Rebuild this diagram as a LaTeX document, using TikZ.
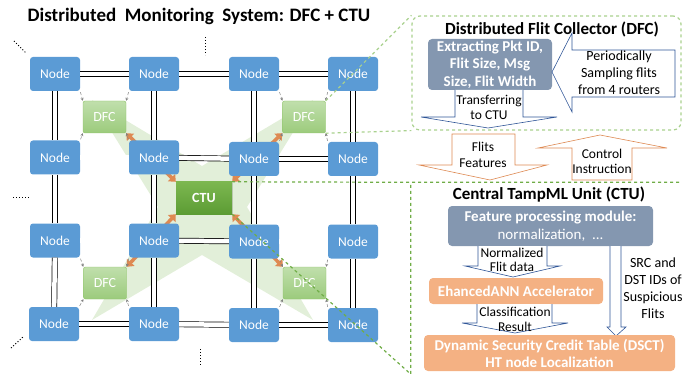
\documentclass[tikz,border=0pt]{standalone}
\usepackage{fontspec}
\setmainfont{Carlito}
\usetikzlibrary{arrows.meta,shadows,backgrounds}
\definecolor{nodeblue}{RGB}{91,155,213}
\definecolor{slate}{RGB}{132,151,176}
\definecolor{salmon}{RGB}{244,177,131}
\definecolor{paleleaf}{RGB}{226,239,217}
\definecolor{leaf}{RGB}{169,209,142}
\definecolor{moss}{RGB}{112,173,71}
\definecolor{rust}{RGB}{222,137,82}
\definecolor{navy}{RGB}{47,85,151}
\tikzstyle{router} = [rectangle, rounded corners=3pt, fill=nodeblue, text=white, minimum width=50pt, minimum height=34pt, inner sep=0pt, font=\fontsize{13.5}{15}\selectfont]
\tikzstyle{collector} = [rectangle, rounded corners=2pt, draw={rgb,255:red,140;green,195;blue,100}, top color={rgb,255:red,192;green,223;blue,172}, bottom color={rgb,255:red,156;green,203;blue,124}, text=white, minimum width=43pt, minimum height=32pt, inner sep=0pt, font=\fontsize{14}{15}\selectfont]
\tikzstyle{central} = [rectangle, top color={rgb,255:red,124;green,183;blue,80}, bottom color={rgb,255:red,92;green,156;blue,52}, text=white, minimum width=56pt, minimum height=32pt, inner sep=0pt, font=\bfseries\fontsize{14}{15}\selectfont, drop shadow={shadow xshift=1pt, shadow yshift=-1pt, opacity=0.3}]
\tikzstyle{block} = [rectangle, rounded corners=4pt, text=white, align=center, inner sep=0pt, font=\fontsize{15}{18}\selectfont]
\tikzstyle{note} = [align=center, inner sep=0pt, font=\fontsize{13.5}{15}\selectfont]
\tikzstyle{heading} = [inner sep=0pt, font=\bfseries\fontsize{17}{19}\selectfont]
\tikzset{link/.style = {draw=black, line width=0.7pt, double=white, double distance=4.5pt},
  tap/.style = {gray, densely dashed, line width=0.5pt, shorten <=1pt, -{Stealth[length=3pt, width=3pt]}},
  feed/.style = {rust, line width=3.5pt, {Triangle[length=6pt, width=10pt]}-{Triangle[length=6pt, width=10pt]}},
  blockarrow/.style = {draw=navy, fill=white, line width=0.6pt},
  orangearrow/.style = {draw=rust, fill=white, line width=0.6pt}
}

\begin{document}
\begin{tikzpicture}[x=1pt, y=-1pt]
            \useasboundingbox (0,0) rectangle (682,374);
            \node[inner sep=0pt, font=\bfseries\fontsize{19}{21}\selectfont] (title) at (199,16) {Distributed\ \ Monitoring\ \ System: DFC + CTU};

            % routers
            \node[router] (n11) at (55,74) {Node};
            \node[router] (n12) at (154,74) {Node};
            \node[router] (n13) at (254,74) {Node};
            \node[router] (n14) at (353,74) {Node};
            \node[router] (n21) at (55,157.5) {Node};
            \node[router] (n22) at (154,157.5) {Node};
            \node[router] (n23) at (254,159) {Node};
            \node[router] (n24) at (353,159) {Node};
            \node[router] (n31) at (55,240.5) {Node};
            \node[router] (n32) at (154,240.5) {Node};
            \node[router] (n33) at (254,241.5) {Node};
            \node[router] (n34) at (353,241.5) {Node};
            \node[router] (n41) at (54,324) {Node};
            \node[router] (n42) at (154,324) {Node};
            \node[router] (n43) at (254,325) {Node};
            \node[router] (n44) at (353,325) {Node};

            % collectors
            \node[collector] (d1) at (104.5,117) {DFC};
            \node[collector] (d2) at (304,117) {DFC};
            \node[collector] (d3) at (105,283) {DFC};
            \node[collector] (d4) at (304.5,283) {DFC};
            \node[central] (ctu) at (204,198) {CTU};

            % links
            \draw[link] (n11) -- (n12);
            \draw[link] (n12) -- (n13);
            \draw[link] (n13) -- (n14);
            \draw[link] (n21) -- (n22);
            \draw[link] (n22) -- (n23);
            \draw[link] (n23) -- (n24);
            \draw[link] (n31) -- (n32);
            \draw[link] (n32) -- (n33);
            \draw[link] (n33) -- (n34);
            \draw[link] (n41) -- (n42);
            \draw[link] (n42) -- (n43);
            \draw[link] (n43) -- (n44);
            \draw[link] (n11) -- (n21);
            \draw[link] (n21) -- (n31);
            \draw[link] (n31) -- (n41);
            \draw[link] (n12) -- (n22);
            \draw[link] (n22) -- (n32);
            \draw[link] (n32) -- (n42);
            \draw[link] (n13) -- (n23);
            \draw[link] (n23) -- (n33);
            \draw[link] (n33) -- (n43);
            \draw[link] (n14) -- (n24);
            \draw[link] (n24) -- (n34);
            \draw[link] (n34) -- (n44);

            % sampling taps
            \draw[tap] (n11.south east) -- (d1.north west);
            \draw[tap] (n12.south west) -- (d1.north east);
            \draw[tap] (n21.north east) -- (d1.south west);
            \draw[tap] (n22.north west) -- (d1.south east);
            \draw[tap] (n13.south east) -- (d2.north west);
            \draw[tap] (n14.south west) -- (d2.north east);
            \draw[tap] (n23.north east) -- (d2.south west);
            \draw[tap] (n24.north west) -- (d2.south east);
            \draw[tap] (n31.south east) -- (d3.north west);
            \draw[tap] (n32.south west) -- (d3.north east);
            \draw[tap] (n41.north east) -- (d3.south west);
            \draw[tap] (n42.north west) -- (d3.south east);
            \draw[tap] (n33.south east) -- (d4.north west);
            \draw[tap] (n34.south west) -- (d4.north east);
            \draw[tap] (n43.north east) -- (d4.south west);
            \draw[tap] (n44.north west) -- (d4.south east);

            % star and feature links to the CTU
            \begin{scope}[on background layer]
            \fill[paleleaf] (92,100) -- (202,166) -- (313,100) -- (247,207) -- (313,320) -- (202,255) -- (92,320) -- (158,207) -- cycle;
            \draw[feed] (ctu.north west) -- (d1.south east);
            \draw[feed] (ctu.north east) -- (d2.south west);
            \draw[feed] (ctu.south west) -- (d3.north east);
            \draw[feed] (ctu.south east) -- (d4.north west);
            \end{scope}

            % ellipsis dots
            \draw[dotted, line width=1pt] (14,41) -- (26,53);
            \draw[dotted, line width=1pt] (205,37) -- (205,55);
            \draw[dotted, line width=1pt] (13,197) -- (30,197);
            \draw[dotted, line width=1pt] (11,348) -- (23,337);
            \draw[dotted, line width=1pt] (200,349) -- (200,367);

            % DFC panel
            \node[rectangle, rounded corners=8pt, draw=leaf, dashed, line width=1.2pt, minimum width=269pt, minimum height=114pt] (dfcbox) at (546.5,73) {};
            \node[heading] (dfctitle) at (552,29) {Distributed Flit Collector (DFC)};
            \node[block, fill=slate, font=\bfseries\fontsize{15}{17.5}\selectfont, minimum width=124pt, minimum height=51pt] (extract) at (490,64.5) {Extracting Pkt ID,\\Flit Size, Msg\\Size, Flit Width};
            \draw[blockarrow] (552,72) -- (572,33) -- (572,50) -- (675,50) -- (675,97) -- (572,97) -- (572,112) -- cycle;
            \node[note, font=\fontsize{14}{17}\selectfont] (sample) at (619,73) {Periodically\\Sampling flits\\from 4 routers};
            \draw[blockarrow] (455,90) -- (455,117) -- (421,117) -- (488,128) -- (557,117) -- (523,117) -- (523,90);
            \node[note] (transfer) at (489,107) {Transferring\\to CTU};

            % between panels
            \draw[orangearrow] (452,134) -- (515,134) -- (515,165) -- (547,165) -- (490,180) -- (419,165) -- (452,165) -- cycle;
            \node[note, font=\fontsize{13.5}{16}\selectfont] (flits) at (483,155) {Flits\\Features};
            \draw[orangearrow] (600,135) -- (667,148) -- (632,148) -- (632,180) -- (572,180) -- (572,148) -- (538,148) -- cycle;
            \node[note] (control) at (602,161) {Control\\Instruction};

            % CTU panel
            \node[minimum width=271pt, minimum height=191.5pt, inner sep=0pt] (ctubox) at (546.5,278.25) {};
            \node[heading] (ctutitle) at (549,195) {Central TampML Unit (CTU)};
            \node[block, fill=slate, minimum width=205pt, minimum height=40pt] (feature) at (550.5,226) {\textbf{Feature processing module:}\\normalization,\ \ ...};
            \draw[blockarrow] (478,246) -- (478,266) -- (465,266) -- (513,277) -- (560,266) -- (547,266) -- (547,246);
            \node[note, font=\fontsize{13.5}{14.5}\selectfont] (normal) at (512,260) {Normalized\\Flit data};
            \node[block, fill=salmon, font=\bfseries\fontsize{15}{17}\selectfont, minimum width=174pt, minimum height=26pt] (ann) at (516,291) {EhancedANN Accelerator};
            \draw[blockarrow] (477,304) -- (477,323) -- (462,323) -- (515,333) -- (568,323) -- (552,323) -- (552,304);
            \node[note] (classify) at (515,319.5) {Classification\\Result};
            \draw[blockarrow] (610,246) -- (610,327) -- (607,327) -- (616,336) -- (626,327) -- (621,327) -- (621,246);
            \node[note, font=\fontsize{14}{17}\selectfont] (suspect) at (653,288) {SRC and\\DST IDs of\\Suspicious\\Flits};
            \node[block, fill=salmon, font=\bfseries\fontsize{15}{17}\selectfont, minimum width=251pt, minimum height=36pt] (dsct) at (549.5,353) {Dynamic Security Credit Table (DSCT)\\HT node Localization};

            % zoom lines
            \draw[leaf, dashed, line width=1.2pt] (d2.north east) -- (dfcbox.north west);
            \draw[leaf, dashed, line width=1.2pt] (d2.south east) -- (dfcbox.south west);
            \draw[moss, dashed, line width=1.2pt] (ctu.north east) -- (ctubox.north west) -- (ctubox.north east);
            \draw[moss, dashed, line width=1.2pt] (ctu.south east) -- (ctubox.south west) -- (ctubox.north west);
\end{tikzpicture}
\end{document}
